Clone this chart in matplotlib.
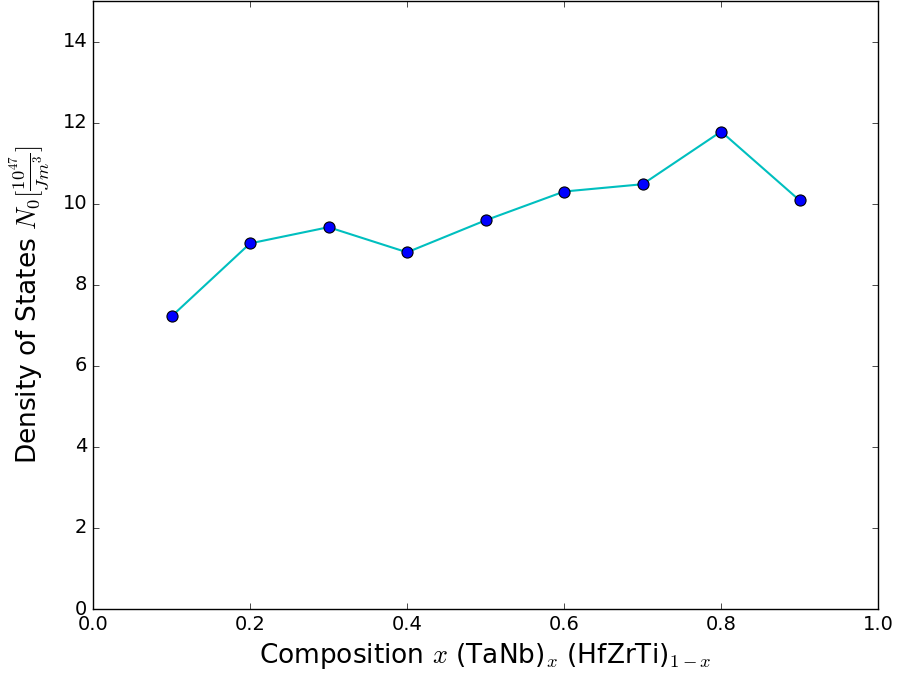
import matplotlib

matplotlib.use("Agg")
import matplotlib.pyplot as plt

composition = [0.1, 0.2, 0.3, 0.4, 0.5, 0.6, 0.7, 0.8, 0.9]
dos = [7.22, 9.02, 9.42, 8.80, 9.59, 10.30, 10.48, 11.78, 10.08]

plt.style.use("classic")
plt.rcParams["mathtext.fontset"] = "cm"

fig = plt.figure(figsize=(8.97, 6.8), dpi=100)
ax = fig.add_axes([0.1037, 0.1044, 0.8753, 0.8941])
ax.plot(composition, dos, "c-", lw=1.5)
ax.plot(composition, dos, "bo", ms=8, mec="k", mew=0.8)
ax.set_xlim(0, 1)
ax.set_ylim(0, 15)
ax.set_yticks(range(0, 15, 2))
ax.tick_params(labelsize=14)
ax.set_xlabel(r"Composition $x$ (TaNb)$_x$ (HfZrTi)$_{1-x}$", fontsize=19)
ax.set_ylabel(r"Density of States $N_0 [\frac{10^{47}}{J m^3}]$", fontsize=19, labelpad=8)
fig.savefig("out.png", dpi=100)
